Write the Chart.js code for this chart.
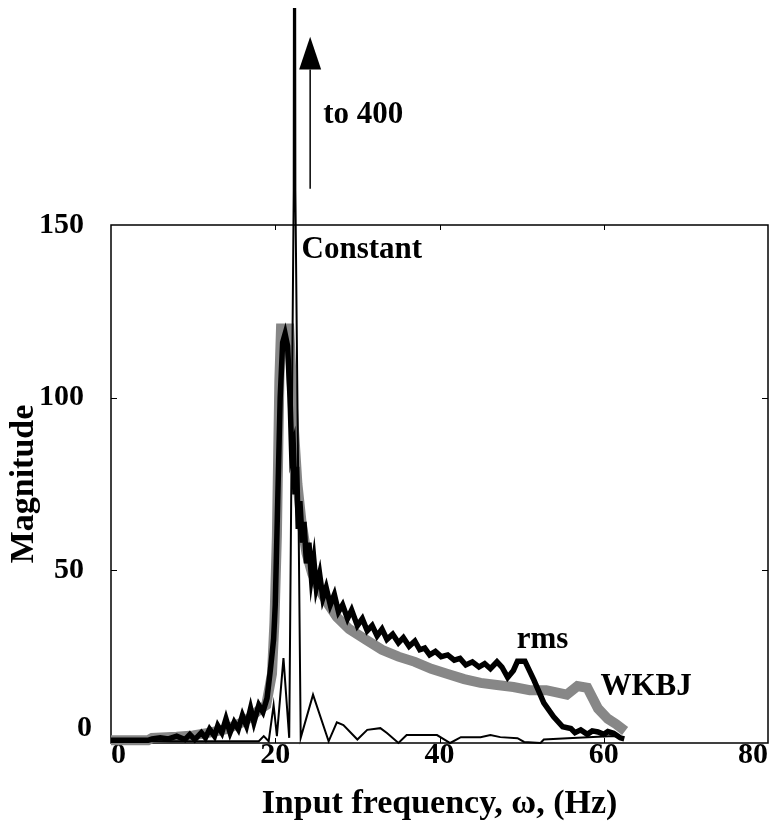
<!DOCTYPE html>
<html><head><meta charset="utf-8">
<script src="https://cdn.jsdelivr.net/npm/chart.js@4/dist/chart.umd.min.js"></script>
<style>html,body{margin:0;padding:0;background:#fff;}#wrap{width:775px;height:825px;}</style>
</head><body><div id="wrap"><canvas id="c" width="775" height="825"></canvas></div>
<script>
// ---- data ----
const wkbjFreq = [0, 4.5, 5, 8, 10, 12, 14, 16, 17, 18, 18.9, 19.6, 19.9, 20.2, 20.5, 20.7, 21.7, 22.0, 22.3, 22.7, 23.2, 23.8, 24.5, 25.5, 26.5, 27.5, 29, 31, 33, 35, 37, 39, 41, 43, 45, 47, 49, 51, 53, 55.5, 56.8, 58, 59.3, 60.5, 61.5, 62.6];
const wkbjMag  = [0.8, 0.8, 1.5, 1.8, 2.2, 3, 4, 6, 7.5, 9.5, 11, 20, 35, 60, 105, 120, 120, 105, 90, 75, 64, 55, 49, 44, 40, 36.5, 33, 30, 27, 25, 23.5, 21.5, 20, 18.5, 17.4, 16.8, 16.2, 15.3, 15.3, 14, 16.5, 16, 10, 7, 5.5, 3.5];

const rmsFreq = [0, 4.5, 5, 6, 7, 8, 9, 9.6, 10.2, 11, 11.5, 12, 12.6, 13, 13.5, 14, 14.5, 15, 15.5, 16, 16.5, 17, 17.4, 18, 18.5, 19, 19.4, 19.8, 20.0, 20.3, 20.6, 20.9, 21.2, 21.5, 21.8, 22.0, 22.2, 22.4, 22.6, 22.8, 23.0, 23.3, 23.5, 23.8, 24.1, 24.4, 24.7, 25.0, 25.4, 25.8, 26.2, 26.7, 27.2, 27.7, 28.2, 28.8, 29.3, 30, 30.6, 31.2, 31.8, 32.4, 33, 33.6, 34.3, 35, 35.6, 36.3, 37, 37.6, 38.2, 38.8, 39.5, 40.2, 41, 41.8, 42.5, 43.2, 44, 44.8, 45.5, 46.2, 47, 47.6, 48.3, 49, 49.5, 50.4, 51.5, 52.7, 53.9, 55, 56, 56.5, 57.2, 58, 58.6, 59.3, 60, 60.5, 61.2, 62, 62.5];
const rmsMag  = [0.8, 0.8, 1.2, 1.5, 1.2, 2, 1, 2.5, 1, 3, 1.5, 4, 2, 5, 3, 7, 3, 6, 4, 8, 5, 10, 6, 11, 9, 13, 21, 30, 40, 70, 100, 116, 118.5, 115, 100, 84, 86, 72, 80, 62, 70, 58, 64, 52, 58, 48, 53, 45, 49, 42, 45, 40, 43, 38, 40, 36, 38.5, 34, 36, 32.5, 34, 31, 33, 30, 31.5, 29, 30.5, 28, 29.5, 27, 27.5, 25.5, 26.5, 25, 25.5, 24, 24.5, 22.6, 23.5, 22, 23, 21.5, 23.5, 22, 19, 21, 23.7, 23.7, 18.2, 11.6, 7.6, 4.7, 4.2, 3, 3.8, 2.5, 3.5, 3.2, 2.5, 3.3, 2.8, 1.5, 1.2];

const constFreq = [0, 18, 18.6, 19.2, 19.8, 20.2, 21.0, 21.7, 22.25, 22.35, 22.45, 23.1, 24.6, 26.5, 27.5, 28.3, 30, 31.2, 32.8, 33.6, 35, 36, 39.7, 41.3, 42.6, 45, 46.2, 47.4, 49.5, 50.3, 52.3, 52.7, 55.6, 61.2, 62.4];
const constMag  = [0.5, 0.5, 2, 0.5, 11, 2, 24.6, 1.5, 160, 400, 160, 1.5, 14, 0.5, 6, 5.2, 1, 3.8, 4.3, 2.9, 0, 2.3, 2.3, 0, 1.7, 1.7, 2.3, 1.7, 1.4, 0.3, 0, 1, 1.4, 2, 1.7];

const xTicks = [0, 20, 40, 60, 80];
const yTicks = [0, 50, 100, 150];
const seriesNames = ['Constant', 'rms', 'WKBJ'];

// annotation texts and where they sit (data coordinates)
const noteText = ['to 400', 'Constant', 'rms', 'WKBJ'];
const noteX = [25.85, 23.2, 49.4, 59.6];
const noteY = [181.9, 142.8, 29.8, 16.2];

const toPts = (fx, fy) => fx.map((f, i) => ({x: f, y: fy[i]}));
const FONT = '"Liberation Serif", "Times New Roman", serif';

const frame = {
  id: 'frame',
  beforeDatasetsDraw(chart) {
    const {ctx, chartArea: a, scales: {x, y}} = chart;
    ctx.save();
    ctx.strokeStyle = '#000';
    ctx.lineWidth = 1.5;
    ctx.strokeRect(a.left, a.top, a.right - a.left, a.bottom - a.top);
    ctx.lineWidth = 1;
    ctx.beginPath();
    xTicks.slice(1, -1).forEach(v => {
      const px = Math.round(x.getPixelForValue(v)) + 0.5;
      ctx.moveTo(px, a.bottom); ctx.lineTo(px, a.bottom - 5);
      ctx.moveTo(px, a.top); ctx.lineTo(px, a.top + 5);
    });
    yTicks.slice(1, -1).forEach(v => {
      const py = Math.round(y.getPixelForValue(v)) + 0.5;
      ctx.moveTo(a.left, py); ctx.lineTo(a.left + 6, py);
      ctx.moveTo(a.right, py); ctx.lineTo(a.right - 6, py);
    });
    ctx.stroke();
    // y "0" tick label sits a little above its tick in the original
    ctx.font = 'bold 30px ' + FONT;
    ctx.fillStyle = '#000';
    ctx.textAlign = 'right'; ctx.textBaseline = 'middle';
    ctx.fillText(String(yTicks[0]), a.left - 19, y.getPixelForValue(yTicks[0]) - 15);
    ctx.restore();
  },
  afterDatasetsDraw(chart) {
    const {ctx, scales: {x, y}} = chart;
    ctx.save();
    // arrow "to 400"
    const ax = x.getPixelForValue(24.25);
    const y0 = y.getPixelForValue(160.5), yb = y.getPixelForValue(195), yt = y.getPixelForValue(204.5);
    ctx.strokeStyle = '#000'; ctx.fillStyle = '#000'; ctx.lineWidth = 1.5;
    ctx.beginPath(); ctx.moveTo(ax, y0); ctx.lineTo(ax, yb); ctx.stroke();
    ctx.beginPath(); ctx.moveTo(ax, yt); ctx.lineTo(ax - 11, yb); ctx.lineTo(ax + 11, yb); ctx.closePath(); ctx.fill();
    // labels
    ctx.font = 'bold 31px ' + FONT;
    ctx.textAlign = 'left'; ctx.textBaseline = 'middle';
    noteText.forEach((t, i) => ctx.fillText(t, x.getPixelForValue(noteX[i]), y.getPixelForValue(noteY[i])));
    ctx.restore();
  }
};

const tickFont = {family: FONT, size: 30, weight: 'bold'};
const titleFont = {family: FONT, size: 34, weight: 'bold'};

new Chart(document.getElementById('c'), {
  type: 'line',
  data: {
    datasets: [
      {label: seriesNames[0], data: toPts(constFreq, constMag), borderColor: '#000', borderWidth: 2, pointRadius: 0, tension: 0,
       clip: {left: 10, top: 217, right: 10, bottom: 10}},
      {label: seriesNames[1], data: toPts(rmsFreq, rmsMag), borderColor: '#000', borderWidth: 5.5, pointRadius: 0, tension: 0,
       clip: {left: 10, top: 10, right: 10, bottom: 10}},
      {label: seriesNames[2], data: toPts(wkbjFreq, wkbjMag), borderColor: '#878787', borderWidth: 10, pointRadius: 0, tension: 0,
       clip: {left: 10, top: 10, right: 10, bottom: 10}}
    ]
  },
  options: {
    responsive: false,
    animation: false,
    devicePixelRatio: 1,
    layout: {padding: {top: 225, right: 7, left: 0, bottom: 0}},
    plugins: {legend: {display: false}, tooltip: {enabled: false}},
    scales: {
      x: {
        type: 'linear', min: 0, max: 80,
        afterBuildTicks: s => { s.ticks = xTicks.map(v => ({value: v})); },
        afterFit: s => { s.height = 82; s.paddingLeft = 0; s.paddingRight = 0; },
        grid: {display: false}, border: {display: false},
        ticks: {font: tickFont, color: '#000', padding: -14, align: 'inner', maxRotation: 0},
        title: {display: true, text: 'Input frequency, ω, (Hz)', font: titleFont, color: '#000', padding: {top: 0, bottom: 0}}
      },
      y: {
        type: 'linear', min: 0, max: 150,
        afterBuildTicks: s => { s.ticks = yTicks.map(v => ({value: v})); },
        afterFit: s => { s.width = 111; },
        grid: {display: false}, border: {display: false},
        ticks: {font: tickFont, color: '#000', padding: 19, callback: v => (v === yTicks[0] ? '' : String(v))},
        title: {display: true, text: 'Magnitude', font: titleFont, color: '#000', padding: {top: 4, bottom: 0}}
      }
    }
  },
  plugins: [frame]
});
</script></body></html>
